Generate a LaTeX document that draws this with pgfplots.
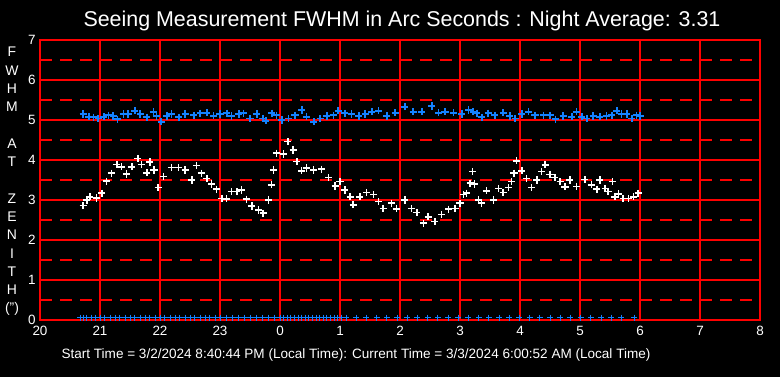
\documentclass[border=0pt]{standalone}
\usepackage{pgfplots}
\pgfplotsset{compat=1.18}
\usepackage{fontspec}
\setmainfont{Liberation Sans}
\definecolor{fblue}{RGB}{20,130,255}
\definecolor{fred}{RGB}{255,0,0}
\begin{document}
\begin{tikzpicture}
\fill[black] (-40bp,-57bp) rectangle (740bp,320bp);
\begin{axis}[
  at={(0,0)}, anchor=south west,
  scale only axis, width=720bp, height=280bp,
  xmin=20, xmax=32, ymin=0, ymax=7,
  axis line style={fred, line width=2bp},
  xtick={20,...,32},
  xticklabels={20,21,22,23,0,1,2,3,4,5,6,7,8},
  ytick={0,...,7},
  minor ytick={0.5,1.5,...,6.5},
  grid=both,
  major grid style={fred, line width=2bp},
  minor grid style={fred, line width=2bp, dash pattern=on 12bp off 8bp},
  major tick length=0pt, minor tick length=0pt,
  ticklabel style={white, font=\fontsize{13.5}{13.5}\selectfont},
  /pgf/number format/assume math mode=true,
  xticklabel style={yshift=-3bp},
  yticklabel style={xshift=-1bp},
]
% blue series (FWHM)
\addplot[only marks, mark=+, mark size=3.6bp, mark options={draw=fblue, line width=1.8bp}] coordinates {
(20.72,5.15)(20.81,5.08)(20.89,5.07)(20.97,5.04)(21.06,5.08)(21.14,5.12)(21.22,5.10)(21.29,5.02)
(21.39,5.15)(21.47,5.15)(21.58,5.23)(21.67,5.15)(21.78,5.07)(21.89,5.21)(21.94,5.10)(22.02,4.96)
(22.11,5.10)(22.19,5.15)(22.31,5.07)(22.42,5.15)(22.56,5.12)(22.67,5.17)(22.78,5.18)(22.89,5.11)
(23.00,5.15)(23.11,5.17)(23.19,5.10)(23.31,5.15)(23.39,5.17)(23.50,5.04)(23.61,5.15)(23.71,5.04)
(23.76,4.98)(23.86,5.17)(23.94,5.12)(24.03,5.00)(24.14,5.04)(24.25,5.12)(24.36,5.25)(24.44,5.08)
(24.56,4.96)(24.67,5.04)(24.78,5.10)(24.89,5.12)(24.97,5.23)(25.08,5.17)(25.19,5.15)(25.31,5.10)
(25.42,5.15)(25.53,5.21)(25.64,5.23)(25.78,5.10)(25.92,5.18)(26.08,5.33)(26.22,5.21)(26.36,5.21)
(26.53,5.35)(26.64,5.18)(26.75,5.21)(26.89,5.18)(27.03,5.15)(27.14,5.25)(27.22,5.21)(27.28,5.17)
(27.36,5.07)(27.47,5.17)(27.58,5.12)(27.72,5.18)(27.83,5.10)(27.92,5.04)(28.03,5.15)(28.14,5.21)
(28.25,5.12)(28.39,5.12)(28.50,5.12)(28.59,5.02)(28.72,5.10)(28.86,5.08)(28.94,5.21)(29.03,5.08)
(29.11,5.04)(29.22,5.10)(29.33,5.08)(29.44,5.10)(29.53,5.12)(29.61,5.23)(29.69,5.15)(29.78,5.15)
(29.86,5.04)(29.94,5.12)(30.00,5.10)
};
% white series
\addplot[only marks, mark=+, mark size=3.6bp, mark options={draw=white, line width=1.5bp}] coordinates {
(20.72,2.86)(20.78,3.00)(20.83,3.08)(20.94,3.05)(21.03,3.17)(21.11,3.47)(21.19,3.67)(21.28,3.89)
(21.36,3.83)(21.44,3.65)(21.53,3.83)(21.63,4.04)(21.69,3.89)(21.78,3.68)(21.83,3.95)(21.90,3.75)
(21.97,3.31)(22.06,3.59)(22.19,3.81)(22.31,3.81)(22.42,3.75)(22.53,3.50)(22.61,3.86)(22.69,3.67)
(22.78,3.54)(22.86,3.40)(22.94,3.27)(23.03,3.04)(23.11,3.03)(23.19,3.21)(23.28,3.21)(23.36,3.25)
(23.44,3.02)(23.53,2.85)(23.64,2.75)(23.72,2.67)(23.81,3.00)(23.86,3.38)(23.89,3.75)(23.94,4.17)
(24.06,4.15)(24.13,4.46)(24.22,4.25)(24.28,3.96)(24.36,3.73)(24.44,3.80)(24.56,3.75)(24.69,3.77)
(24.81,3.56)(24.92,3.35)(25.00,3.46)(25.08,3.25)(25.17,3.08)(25.22,2.88)(25.33,3.08)(25.44,3.19)
(25.56,3.14)(25.64,2.96)(25.72,2.79)(25.86,2.92)(25.94,2.78)(26.08,3.00)(26.19,2.79)(26.28,2.69)
(26.39,2.42)(26.47,2.58)(26.58,2.46)(26.69,2.64)(26.81,2.77)(26.92,2.79)(27.00,2.92)(27.06,3.14)
(27.11,3.17)(27.17,3.42)(27.21,3.71)(27.24,3.40)(27.31,3.00)(27.36,2.92)(27.44,3.23)(27.56,3.00)
(27.64,3.29)(27.72,3.19)(27.81,3.31)(27.86,3.46)(27.90,3.67)(27.94,3.98)(28.03,3.73)(28.11,3.54)
(28.19,3.31)(28.28,3.50)(28.36,3.71)(28.42,3.88)(28.50,3.64)(28.58,3.56)(28.67,3.46)(28.75,3.33)
(28.83,3.50)(28.94,3.34)(29.08,3.51)(29.19,3.38)(29.28,3.27)(29.33,3.50)(29.42,3.29)(29.47,3.21)
(29.54,3.46)(29.58,3.08)(29.64,3.15)(29.72,3.04)(29.81,3.04)(29.89,3.08)(29.97,3.17)
};
% zero markers
\addplot[only marks, mark=+, mark size=3bp, mark options={draw=fblue, line width=1bp}] coordinates {
(20.67,0.06)(20.72,0.06)(20.78,0.06)(20.85,0.06)(20.92,0.06)(21.00,0.06)(21.08,0.06)(21.17,0.06)
(21.25,0.06)(21.33,0.06)(21.42,0.06)(21.50,0.06)(21.58,0.06)(21.67,0.06)(21.75,0.06)(21.83,0.06)
(21.92,0.06)(22.00,0.06)(22.08,0.06)(22.17,0.06)(22.25,0.06)(22.33,0.06)(22.42,0.06)(22.50,0.06)
(22.58,0.06)(22.67,0.06)(22.75,0.06)(22.83,0.06)(22.92,0.06)(23.00,0.06)(23.10,0.06)(23.20,0.06)
(23.30,0.06)(23.40,0.06)(23.50,0.06)(23.60,0.06)(23.70,0.06)(23.80,0.06)(23.90,0.06)(24.00,0.06)
(24.06,0.06)(24.12,0.06)(24.18,0.06)(24.24,0.06)(24.30,0.06)(24.36,0.06)(24.42,0.06)(24.48,0.06)
(24.54,0.06)(24.60,0.06)(24.66,0.06)(24.72,0.06)(24.78,0.06)(24.84,0.06)(24.90,0.06)(24.96,0.06)
(25.02,0.06)(25.10,0.06)(25.27,0.06)(25.44,0.06)(25.61,0.06)(25.78,0.06)(25.95,0.06)(26.12,0.06)
(26.29,0.06)(26.46,0.06)(26.63,0.06)(26.80,0.06)(26.97,0.06)(27.14,0.06)(27.31,0.06)(27.48,0.06)
(27.65,0.06)(27.82,0.06)(27.99,0.06)(28.16,0.06)(28.33,0.06)(28.50,0.06)(28.67,0.06)(28.84,0.06)
(29.01,0.06)(29.18,0.06)(29.35,0.06)(29.52,0.06)(29.69,0.06)(29.90,0.06)
};
\end{axis}
\node[white, font=\fontsize{21.5}{23}\selectfont] at (362bp,299bp) {Seeing Measurement FWHM in Arc Seconds : Night Average: 3.31};
\node[white, font=\fontsize{13.6}{15}\selectfont] at (316bp,-35bp) {Start Time = 3/2/2024 8:40:44 PM (Local Time): Current Time = 3/3/2024 6:00:52 AM (Local Time)};
\node[white, font=\fontsize{14}{18.36}\selectfont, align=center] at (-28bp,138.5bp)
 {F\\W\\H\\M\\\mbox{}\\A\\T\\\mbox{}\\Z\\E\\N\\I\\T\\H\\(")};
\end{tikzpicture}
\end{document}
